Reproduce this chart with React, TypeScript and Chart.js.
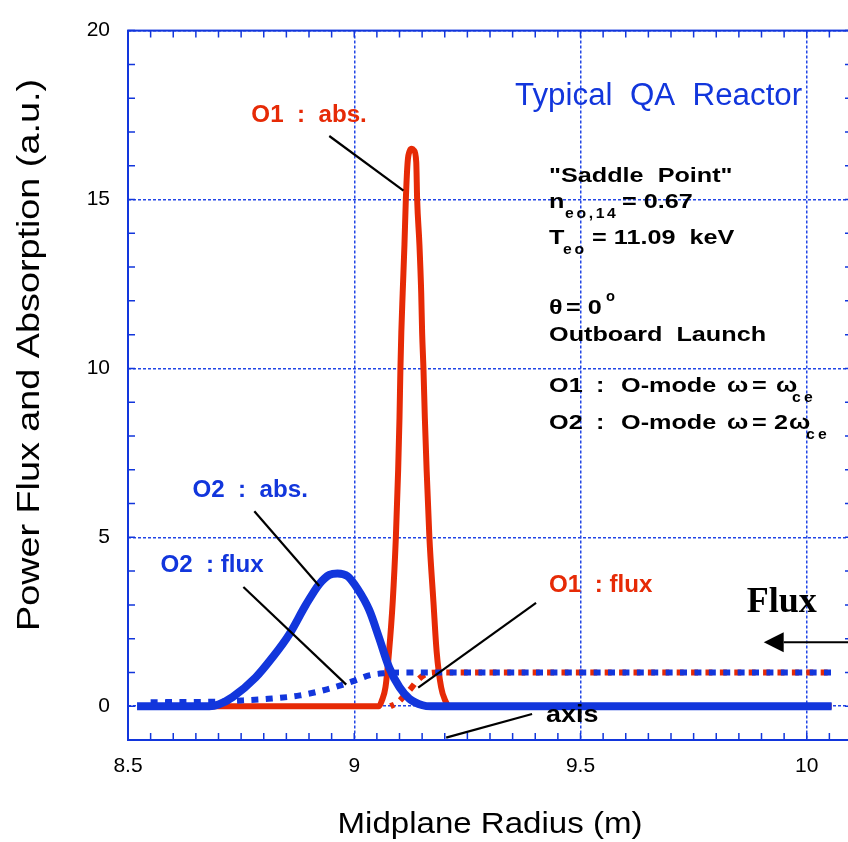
import { useEffect, useRef } from 'react';
import { Chart, registerables } from 'chart.js';

Chart.register(...registerables);

// ---- series: midplane radius (m) vs. power flux / absorption (a.u.) ----
const o2AbsR = [8.52, 8.68, 8.70, 8.731, 8.782, 8.819, 8.856, 8.893, 8.923, 8.945, 8.963, 8.985, 9.007, 9.033, 9.055, 9.077, 9.10, 9.122, 9.151, 9.17, 10.055];
const o2AbsV = [0, 0, 0.05, 0.27, 0.85, 1.44, 2.12, 3.0, 3.62, 3.89, 3.93, 3.85, 3.48, 2.85, 2.02, 1.15, 0.56, 0.22, 0.03, 0, 0];

const o2FluxR = [8.55, 8.68, 8.75, 8.81, 8.88, 8.94, 8.98, 9.005, 9.035, 9.07, 9.1, 10.055];
const o2FluxV = [0.12, 0.13, 0.17, 0.22, 0.32, 0.5, 0.66, 0.78, 0.92, 0.98, 1.0, 1.0];

const o1AbsR = [8.68, 9.055, 9.061, 9.069, 9.077, 9.085, 9.092, 9.097, 9.100, 9.102, 9.104, 9.107, 9.111, 9.114, 9.118, 9.123, 9.127, 9.132, 9.137, 9.139, 9.144, 9.148, 9.150, 9.153, 9.156, 9.160, 9.166, 9.175, 9.182, 9.192, 9.201, 9.21, 10.055];
const o1AbsV = [0, 0, 0.17, 0.56, 1.63, 3.09, 5.01, 6.98, 8.54, 9.97, 11.06, 12.22, 13.68, 15.0, 16.11, 16.45, 16.5, 16.45, 16.11, 15.0, 13.68, 12.22, 11.06, 9.97, 8.54, 6.98, 5.01, 3.09, 1.63, 0.56, 0.17, 0, 0];

const o1FluxR = [9.08, 9.095, 9.11, 9.125, 9.14, 9.155, 9.17, 9.19, 10.055];
const o1FluxV = [0, 0.1, 0.3, 0.52, 0.77, 0.93, 0.99, 1.0, 1.0];

const xTicks = [8.5, 9, 9.5, 10];
const yTicks = [0, 5, 10, 15, 20];

const SANS = '"Liberation Sans", Arial, Helvetica, sans-serif';
const SERIF = '"Liberation Serif", "Times New Roman", serif';
const BLUE = '#1236dc';
const RED = '#e62a06';
const GRID = '#2246e6';

const pts = (r: number[], v: number[]) => r.map((x, i) => ({ x, y: v[i] }));

type Ctx = CanvasRenderingContext2D;

function text(ctx: Ctx, s: string, x: number, y: number, font: string, color: string, sx = 1, spacing = 0, align: CanvasTextAlign = 'left') {
  ctx.save();
  ctx.translate(x, y);
  ctx.scale(sx, 1);
  ctx.font = font;
  ctx.fillStyle = color;
  ctx.textAlign = align;
  ctx.textBaseline = 'alphabetic';
  (ctx as any).letterSpacing = spacing + 'px';
  ctx.fillText(s, 0, 0);
  ctx.restore();
}

function line(ctx: Ctx, x1: number, y1: number, x2: number, y2: number, w = 2, color = '#000') {
  ctx.save();
  ctx.strokeStyle = color;
  ctx.lineWidth = w;
  ctx.beginPath();
  ctx.moveTo(x1, y1);
  ctx.lineTo(x2, y2);
  ctx.stroke();
  ctx.restore();
}

// Callout labels (anchor in data units) and their leader lines
const callouts = [
  { t: 'O1  :  abs.', x: 8.7726, y: 17.29, c: RED, lead: [8.9448, 16.88, 9.1088, 15.26] },
  { t: 'O2  :  abs.', x: 8.6424, y: 6.18, c: BLUE, lead: [8.7792, 5.77, 8.9227, 3.56] },
  { t: 'O2  : flux', x: 8.5717, y: 3.97, c: BLUE, lead: [8.755, 3.53, 8.9823, 0.64] },
  { t: 'O1  : flux', x: 9.4305, y: 3.38, c: RED, lead: [9.4018, 3.06, 9.1413, 0.55] },
];

const frameAndNotes = {
  id: 'frameAndNotes',
  afterDatasetsDraw(chart: Chart) {
    const ctx = chart.ctx;
    const { left, right, top, bottom } = chart.chartArea;
    const xs = chart.scales.x;
    const ys = chart.scales.y;
    const X = (v: number) => xs.getPixelForValue(v);
    const Y = (v: number) => ys.getPixelForValue(v);

    // frame and inward minor ticks
    ctx.save();
    ctx.strokeStyle = BLUE;
    ctx.lineWidth = 2;
    ctx.strokeRect(left, top, right - left, bottom - top);
    ctx.lineWidth = 1.5;
    ctx.beginPath();
    for (let i = 0; i <= 32; i++) {
      const px = X(8.5 + i * 0.05);
      ctx.moveTo(px, bottom); ctx.lineTo(px, bottom - 7);
      ctx.moveTo(px, top); ctx.lineTo(px, top + 7);
    }
    for (let v = -1; v <= 20; v++) {
      const py = Y(v);
      ctx.moveTo(left, py); ctx.lineTo(left + 7, py);
      ctx.moveTo(right, py); ctx.lineTo(right - 7, py);
    }
    ctx.stroke();
    ctx.restore();

    // axis titles
    text(ctx, 'Midplane Radius (m)', (left + right) / 2, 833, `29px ${SANS}`, '#000', 1.14, 0, 'center');
    ctx.save();
    ctx.translate(39, 355);
    ctx.rotate(-Math.PI / 2);
    text(ctx, 'Power Flux and Absorption (a.u.)', 0, 0, `32px ${SANS}`, '#000', 1.18, 0, 'center');
    ctx.restore();

    // callouts
    const bold23 = `bold 23px ${SANS}`;
    for (const c of callouts) {
      text(ctx, c.t, X(c.x), Y(c.y), bold23, c.c, 1.05);
      line(ctx, X(c.lead[0]), Y(c.lead[1]), X(c.lead[2]), Y(c.lead[3]), 2.2);
    }
    text(ctx, 'axis', X(9.4238), Y(-0.47), `bold 24px ${SANS}`, '#000', 1.12);
    line(ctx, X(9.393), Y(-0.23), X(9.2031), Y(-0.93), 2.2);

    text(ctx, 'Typical  QA  Reactor', X(9.3554), Y(17.81), `31px ${SANS}`, BLUE, 1.01);

    // parameter block
    const bx = X(9.4305);
    const f = `bold 21px ${SANS}`;
    const fs = `bold 15px ${SANS}`;
    const k = 1.2;
    const put = (s: string, dx: number, yv: number, font = f, sp = 0, dy = 0) =>
      text(ctx, s, bx + dx, Y(yv) + dy, font, '#000', font === f ? k : 1.05, sp);
    put('"Saddle  Point"', 0, 15.51);
    put('n', 0, 14.75);
    put('eo,14', 16, 14.44, fs, 2.5);
    put('= 0.67', 73, 14.75);
    put('T', 0, 13.67);
    put('eo', 14, 13.38, fs, 2.5);
    put('= 11.09  keV', 43, 13.67);
    put('θ', 0, 11.60);
    put('= 0', 17, 11.60);
    put('o', 57, 11.60, `bold 14px ${SANS}`, 0, -13);
    put('Outboard  Launch', 0, 10.82);
    put('O1', 0, 9.30); put(':', 47, 9.30); put('O-mode', 72, 9.30);
    put('ω', 178, 9.30); put('=', 203, 9.30); put('ω', 227, 9.30);
    put('ce', 243, 9.01, fs, 3);
    put('O2', 0, 8.22); put(':', 47, 8.22); put('O-mode', 72, 8.22);
    put('ω', 178, 8.22); put('=', 203, 8.22); put('2', 225, 8.22); put('ω', 240, 8.22);
    put('ce', 257, 7.90, fs, 3);

    // incoming flux arrow
    text(ctx, 'Flux', X(9.8675), Y(2.80), `bold 36px ${SERIF}`, '#000');
    const ay = Y(1.895);
    const tip = X(9.905);
    const back = X(9.949);
    line(ctx, back, ay, chart.width, ay, 2);
    ctx.save();
    ctx.fillStyle = '#000';
    ctx.beginPath();
    ctx.moveTo(tip, ay);
    ctx.lineTo(back, ay - 10);
    ctx.lineTo(back, ay + 10);
    ctx.closePath();
    ctx.fill();
    ctx.restore();
  },
};

export default function App() {
  const ref = useRef<HTMLCanvasElement>(null);

  useEffect(() => {
    const common = { pointRadius: 0, fill: false, cubicInterpolationMode: 'monotone' as const, borderCapStyle: 'butt' as const };
    const chart = new Chart(ref.current!, {
      type: 'line',
      data: {
        datasets: [
          { label: 'O2 : abs.', data: pts(o2AbsR, o2AbsV), borderColor: BLUE, borderWidth: 8, borderJoinStyle: 'round', ...common },
          { label: 'O2 : flux', data: pts(o2FluxR, o2FluxV), borderColor: BLUE, borderWidth: 6, borderDash: [7, 7.4], ...common },
          { label: 'O1 : abs.', data: pts(o1AbsR, o1AbsV), borderColor: RED, borderWidth: 6, borderJoinStyle: 'round', ...common },
          { label: 'O1 : flux', data: pts(o1FluxR, o1FluxV), borderColor: RED, borderWidth: 6, borderDash: [7, 7.4], borderDashOffset: 3, ...common },
        ],
      },
      options: {
        responsive: false,
        animation: false,
        devicePixelRatio: 1,
        layout: { padding: { left: 0, top: 20, right: 18, bottom: 0 } },
        plugins: { legend: { display: false }, tooltip: { enabled: false } },
        scales: {
          x: {
            type: 'linear',
            min: 8.5,
            max: 10.1,
            afterFit: (s: any) => { s.height = 102; },
            afterBuildTicks: (s: any) => { s.ticks = xTicks.map((value) => ({ value })); },
            grid: { color: GRID, lineWidth: 1.5, drawTicks: false },
            border: { display: false, dash: [3, 2] },
            ticks: { color: '#000', font: { family: SANS, size: 21 }, padding: 14, maxRotation: 0, autoSkip: false, callback: (v: any) => String(v) },
          },
          y: {
            type: 'linear',
            min: -1,
            max: 20,
            afterFit: (s: any) => { s.width = 128; },
            afterBuildTicks: (s: any) => { s.ticks = yTicks.map((value) => ({ value })); },
            grid: { color: GRID, lineWidth: 1.5, drawTicks: false },
            border: { display: false, dash: [3, 2] },
            ticks: { color: '#000', font: { family: SANS, size: 21 }, padding: 18, autoSkip: false, callback: (v: any) => String(v) },
          },
        },
      },
      plugins: [frameAndNotes],
    });
    return () => chart.destroy();
  }, []);

  return (
    <div style={{ position: 'fixed', left: 0, top: 0, width: 848, height: 842, overflow: 'hidden', background: '#fff' }}>
      <canvas ref={ref} width={870} height={842} style={{ display: 'block' }} />
    </div>
  );
}
